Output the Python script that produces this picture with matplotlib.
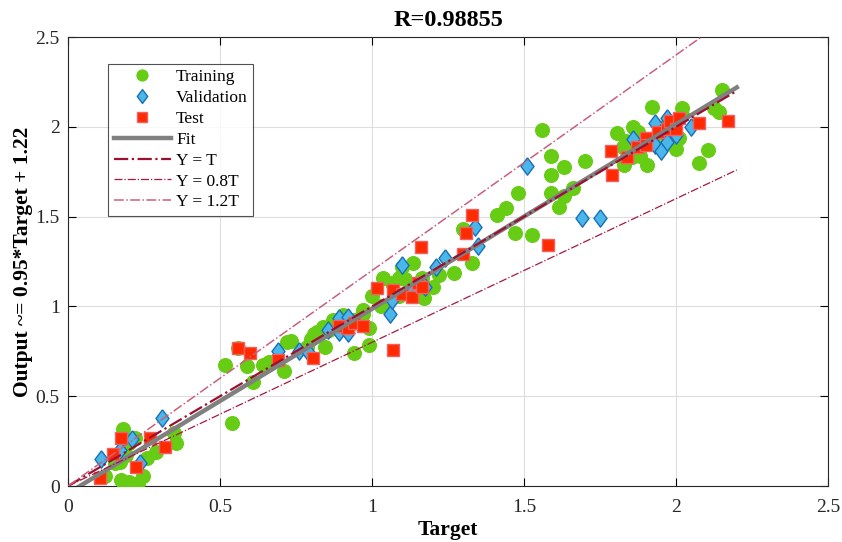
import numpy as np
import matplotlib
matplotlib.use("Agg")
import matplotlib.pyplot as plt

plt.rcParams['font.family'] = ['Liberation Serif', 'DejaVu Serif']

# Training points (target, output)
train_x = [0.12, 0.175, 0.20, 0.23, 0.245, 0.17, 0.26, 0.29, 0.35, 0.355, 0.18, 0.22, 0.19, 0.20, 0.155,
           0.54, 0.61, 0.515, 0.56, 0.59, 0.64, 0.66, 0.71, 0.72, 0.735, 0.785, 0.81, 0.845, 0.84, 0.87,
           0.905, 0.94, 0.97, 0.99, 0.94, 0.99, 1.03, 1.00, 1.035, 1.065, 1.09, 1.11, 1.10, 1.135, 1.165,
           1.20, 1.22, 1.27, 1.33, 1.17, 1.09, 0.97, 1.30, 1.41, 1.44, 1.47, 1.525, 1.56, 1.59, 1.63,
           1.59, 1.70, 1.48, 1.59, 1.63, 1.66, 1.615, 1.92, 2.02, 2.105, 2.075, 2.15, 2.125, 2.14, 1.905,
           2.00, 1.805, 1.86, 1.875, 1.825, 1.84, 1.88, 1.83, 2.01, 2.02, 1.835, 1.88, 1.855,
           0.86, 0.88, 0.92, 0.82, 0.80, 1.96, 1.95]
train_y = [0.055, 0.035, 0.02, 0.015, 0.055, 0.135, 0.155, 0.19, 0.295, 0.24, 0.32, 0.27, 0.17, 0.24, 0.13,
           0.35, 0.58, 0.675, 0.77, 0.67, 0.675, 0.69, 0.64, 0.80, 0.81, 0.775, 0.845, 0.775, 0.885, 0.925,
           0.95, 0.925, 0.96, 0.88, 0.74, 0.785, 1.00, 1.06, 1.16, 1.13, 1.16, 1.15, 1.22, 1.24, 1.16,
           1.11, 1.175, 1.185, 1.24, 1.045, 1.06, 0.98, 1.43, 1.51, 1.55, 1.41, 1.40, 1.98, 1.84, 1.775,
           1.73, 1.81, 1.63, 1.63, 1.615, 1.66, 1.555, 2.11, 2.105, 1.87, 1.80, 2.205, 2.105, 2.08, 1.79,
           1.875, 1.965, 2.00, 1.97, 1.89, 1.86, 1.84, 1.79, 1.94, 2.065, 1.92, 1.91, 1.83,
           0.87, 0.90, 0.88, 0.86, 0.82, 2.00, 1.92]

# Validation points
val_x = [0.11, 0.31, 0.21, 0.17, 0.237, 0.69, 0.76, 0.79, 0.855, 0.89, 0.92, 0.89, 0.92,
         1.06, 1.065, 1.10, 1.21, 1.24, 1.34, 1.35, 1.135, 1.175, 1.51, 1.69, 1.75,
         1.86, 1.93, 1.97, 1.93, 1.95, 1.97, 2.00, 2.05]
val_y = [0.15, 0.38, 0.26, 0.20, 0.13, 0.75, 0.75, 0.745, 0.87, 0.935, 0.94, 0.86, 0.85,
         0.96, 1.035, 1.23, 1.22, 1.27, 1.44, 1.335, 1.09, 1.11, 1.78, 1.49, 1.49,
         1.93, 2.02, 2.05, 1.90, 1.865, 1.915, 1.955, 2.00]

# Test points
test_x = [0.105, 0.148, 0.174, 0.224, 0.27, 0.32, 0.56, 0.60, 0.69, 0.805, 0.89, 0.92, 0.94, 0.97,
          1.07, 1.33, 1.31, 1.16, 1.30, 1.015, 1.07, 1.10, 1.13, 1.15, 1.165, 1.58,
          1.785, 1.79, 1.84, 1.87, 1.90, 1.90, 1.94, 1.97, 1.98, 2.01, 2.00, 2.075, 2.17]
test_y = [0.045, 0.18, 0.27, 0.105, 0.27, 0.22, 0.77, 0.74, 0.70, 0.71, 0.89, 0.88, 0.91, 0.89,
          0.76, 1.51, 1.41, 1.33, 1.29, 1.10, 1.09, 1.07, 1.05, 1.13, 1.11, 1.34,
          1.865, 1.73, 1.83, 1.89, 1.94, 1.90, 1.97, 1.99, 2.03, 2.05, 1.99, 2.02, 2.03]

line_x = [0, 2.2]
fit_slope = 1.027
fit_intercept = -0.04

# diamond a bit narrower than tall
diamond = [(0, 1), (0.75, 0), (0, -1), (-0.75, 0), (0, 1)]

fig = plt.figure(figsize=(8.42, 5.42), dpi=100)
ax = fig.add_axes([0.0808, 0.1033, 0.9026, 0.8284])

ax.plot(train_x, train_y, 'o', ms=10, color='#66cc14', mec='#66cc14', mew=0.8, label='Training', zorder=3)
ax.plot(val_x, val_y, marker=diamond, ls='none', ms=12.5, color='#4ab7ea', mec='#1a6fb5', mew=1.0,
        label='Validation', zorder=3)
ax.plot(test_x, test_y, 's', ms=8.5, color='#ff2a00', mec='#f06060', mew=1.0, label='Test', zorder=3)

lx = np.array(line_x)
ax.plot(lx, fit_slope * lx + fit_intercept, '-', color='#808080', lw=3.2, label='Fit', zorder=4)
ax.plot(lx, lx, '-.', color='#9b1030', lw=1.6, label='Y = T', zorder=5)
ax.plot(lx, 0.8 * lx, '-.', color='#a8183e', lw=0.9, label='Y = 0.8T', zorder=5)
ax.plot(lx, 1.2 * lx, '-.', color='#c8607c', lw=1.1, label='Y = 1.2T', zorder=5)

ax.set_xlim(0, 2.5)
ax.set_ylim(0, 2.5)
ax.set_xticks([0, 0.5, 1, 1.5, 2, 2.5])
ax.set_yticks([0, 0.5, 1, 1.5, 2, 2.5])
ax.set_xticklabels(['0', '0.5', '1', '1.5', '2', '2.5'])
ax.set_yticklabels(['0', '0.5', '1', '1.5', '2', '2.5'])
ax.tick_params(direction='in', labelsize=14, length=6, top=True, right=True, labelcolor='#262626')
ax.tick_params(axis='x', pad=9)
ax.tick_params(axis='y', pad=6)
ax.grid(True, color='#dddddd', lw=0.8)
ax.set_axisbelow(True)
for s in ax.spines.values():
    s.set_color('#262626')
    s.set_linewidth(0.8)

ax.set_xlabel('Target', fontsize=15.5, fontweight='bold', labelpad=3)
ax.set_ylabel('Output ~= 0.95*Target + 1.22', fontsize=15.5, fontweight='bold', labelpad=2)
ax.set_title('R=0.98855', fontsize=17.5, fontweight='bold', pad=8)

leg = ax.legend(loc='upper left', bbox_to_anchor=(0.053, 0.94), fontsize=12.5, frameon=True,
                fancybox=False, edgecolor='#262626', handlelength=3.3, borderpad=0.3,
                labelspacing=0.27, handletextpad=0.3, markerscale=0.8, borderaxespad=0)
leg.get_frame().set_linewidth(0.8)

fig.savefig('out.png', dpi=100)
